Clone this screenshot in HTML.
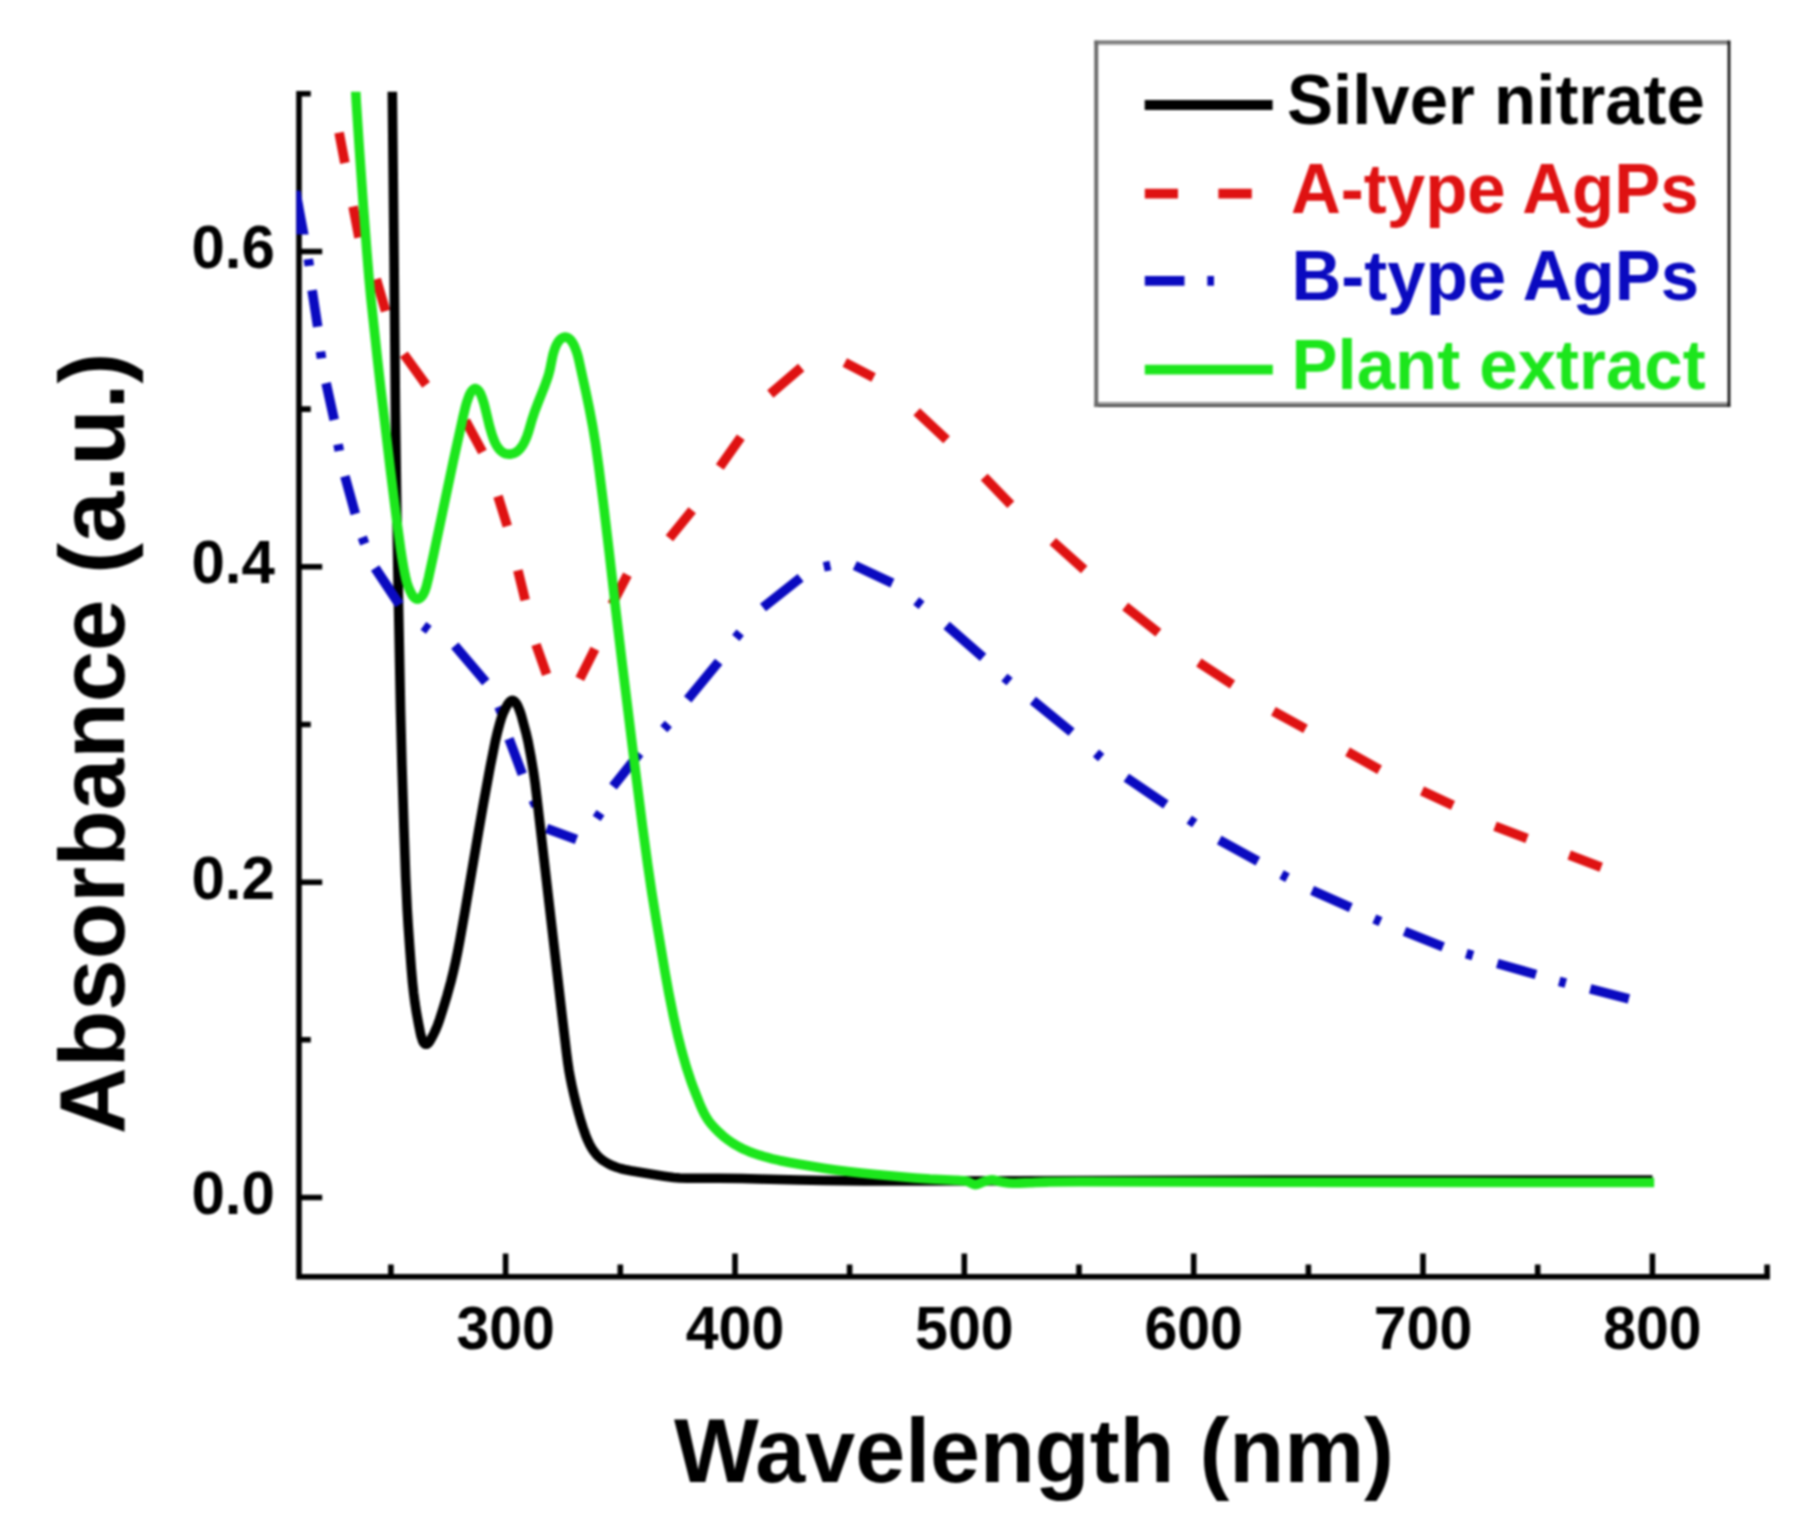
<!DOCTYPE html>
<html lang="en"><head><meta charset="utf-8"><title>UV-Vis absorbance spectra</title>
<style>
html,body{margin:0;padding:0;background:#fff;}
body{width:1808px;height:1539px;overflow:hidden;}
svg{display:block;filter:blur(0.9px);}
text{font-family:"Liberation Sans",Arial,Helvetica,sans-serif;font-weight:bold;}
.tick{font-size:59px;fill:#000;}.ytick{font-size:60px;}
.leg{font-size:69px;}
</style></head><body>
<svg width="1808" height="1539" viewBox="0 0 1808 1539">
<rect width="1808" height="1539" fill="#fff"/>
<defs><clipPath id="plot"><rect x="296.2" y="91.8" width="1488.1" height="1185.0"/></clipPath></defs>
<g stroke="#000" stroke-width="5.6" fill="none" stroke-linecap="butt">
<path d="M299.0 91.0 V1276.8 H1769.9"/>
<path d="M299.0 1197.5 H322.2M299.0 1039.8 H310.8M299.0 882.2 H322.2M299.0 724.5 H310.8M299.0 566.8 H322.2M299.0 409.1 H310.8M299.0 251.5 H322.2M299.0 93.8 H310.8"/>
<path d="M390.9 1276.8 V1264.6M505.6 1276.8 V1253.6M620.3 1276.8 V1264.6M735.0 1276.8 V1253.6M849.6 1276.8 V1264.6M964.3 1276.8 V1253.6M1079.0 1276.8 V1264.6M1193.7 1276.8 V1253.6M1308.4 1276.8 V1264.6M1423.0 1276.8 V1253.6M1537.7 1276.8 V1264.6M1652.4 1276.8 V1253.6M1767.1 1276.8 V1264.6"/>
</g>
<g clip-path="url(#plot)" fill="none" stroke-linejoin="round">
<path d="M339.1 132.7 L344.9 163.0M353.1 206.5 L359.0 237.5M376.3 279.1 L385.6 311.2M403.9 354.3 L426.1 384.9M465.6 420.8 L482.5 452.0M498.0 496.2 L507.3 526.1M517.9 570.4 L525.2 600.2M536.0 644.5 L546.6 674.3M579.8 678.8 L594.9 648.9M612.0 604.5 L627.4 574.8M669.4 538.3 L692.2 510.2M719.8 467.0 L740.8 437.2M770.3 394.0 L801.2 367.5M844.8 362.4 L873.6 377.4M916.7 411.7 L946.6 439.8M984.2 477.0 L1010.8 504.6M1052.8 541.5 L1084.2 569.6M1125.2 606.5 L1158.4 632.7M1198.8 662.5 L1232.5 684.6M1273.4 711.2 L1305.5 728.9M1347.5 751.7 L1379.6 769.8M1422.0 790.9 L1453.0 805.3M1495.0 826.3 L1527.1 838.5M1569.2 855.0 L1601.2 867.2" stroke="#df1212" stroke-width="9.6"/>
<path d="M296.1 190.4H300.4L308.6 234.6H296.1Z" fill="#0a0ac0" stroke="none"/>
<path d="M312.1 290.2 L317.7 326.7M326.1 383.1 L334.2 419.9M344.9 476.3 L355.3 513.9M375.2 568.1 L399.5 604.6M454.8 645.6 L485.8 682.1M509.0 738.8 L522.3 774.2M546.6 828.4 L576.5 839.5M613.0 786.4 L639.6 753.2M687.7 699.4 L718.7 661.8M763.0 607.6 L800.6 577.7M854.8 565.5 L892.4 583.2M946.6 625.3 L983.1 657.3M1032.9 700.5 L1071.6 732.1M1126.3 777.6 L1165.9 804.5M1219.2 840.0 L1257.9 861.2M1312.1 890.4 L1350.8 907.7M1404.5 931.4 L1443.1 946.9M1497.3 963.5 L1536.0 974.5M1590.2 988.9 L1628.9 998.9" stroke="#0a0ac0" stroke-width="9.6"/>
<path d="M308.3 259.1 L309.3 265.9M320.5 351.6 L321.5 358.4M338.1 444.3 L339.3 450.9M362.3 537.3 L364.7 543.7M423.4 625.9 L428.8 629.9M498.9 706.6 L501.5 712.8M533.1 799.9 L535.9 806.1M596.7 818.4 L600.5 812.8M663.8 729.1 L668.4 724.1M735.8 637.8 L740.2 632.6M823.8 566.9 L830.4 565.5M916.2 601.0 L921.6 605.2M1004.4 677.3 L1009.6 681.7M1096.0 753.2 L1101.2 757.6M1189.2 819.6 L1194.8 823.4M1281.5 874.5 L1287.5 877.7M1374.3 918.9 L1380.5 921.7M1466.3 953.6 L1472.9 955.6M1559.2 981.4 L1565.8 983.2" stroke="#0a0ac0" stroke-width="9.6"/>
<path d="M392.21 81.61L394.07 256.62L395.43 409.65L396.48 489.64L397.85 569.19L400.54 710.35L401.95 765.68L403.94 828.24L405.68 877.05L407.18 908.86L408.22 925.89L409.87 949.37L411.29 968.31L412.48 982.23L413.64 993.00L414.96 1003.06L416.52 1012.93L418.44 1023.34L420.32 1032.80L421.28 1036.85L422.60 1040.80L423.58 1042.55L424.30 1043.40L425.17 1044.06L426.11 1044.32L427.08 1044.07L428.02 1043.40L428.84 1042.55L430.07 1040.79L432.61 1036.12L434.04 1033.31L435.86 1029.38L437.46 1025.50L438.88 1021.65L442.43 1010.81L447.14 995.34L450.94 981.48L453.42 971.43L455.47 962.37L457.56 952.28L459.89 940.18L464.60 913.46L478.84 829.88L483.28 804.35L490.26 766.47L495.31 741.12L497.20 733.09L499.94 722.78L501.46 717.74L502.91 713.82L505.66 707.99L507.95 703.93L509.54 701.94L510.50 701.11L511.49 700.58L512.50 700.42L513.51 700.68L514.50 701.32L515.44 702.27L516.86 704.29L517.86 706.21L519.21 709.32L520.37 712.51L521.67 716.66L526.33 734.11L527.97 741.12L530.88 756.36L533.59 772.44L535.01 782.37L537.00 798.78L562.72 1021.07L566.59 1053.51L567.75 1062.44L568.94 1070.30L570.18 1077.27L571.82 1085.34L573.83 1094.26L576.15 1103.77L578.70 1113.51L580.90 1121.20L583.00 1127.78L585.41 1134.66L587.35 1139.54L589.54 1144.23L591.56 1147.86L593.83 1151.33L596.36 1154.52L599.18 1157.39L602.28 1159.91L605.59 1162.13L609.05 1164.09L612.67 1165.80L616.45 1167.27L620.39 1168.48L624.48 1169.47L630.79 1170.71L641.26 1172.52L664.20 1176.14L673.53 1177.41L679.67 1177.97L687.45 1178.24L718.45 1178.28L741.51 1178.53L799.02 1180.07L823.65 1180.53L864.21 1180.88L921.35 1181.02L1296.81 1180.00L1413.89 1179.93L1652.42 1180.00" stroke="#000000" stroke-width="9.6"/>
<path d="M375.2 568.1 L399.5 604.6" stroke="#0a0ac0" stroke-width="9.6"/>
<path d="M355.26 81.66L356.24 101.54L359.27 147.69L363.36 205.89L366.90 252.47L368.99 277.73L370.90 298.23L377.42 358.80L380.95 390.00L390.36 469.54L396.84 521.41L400.58 548.97L401.94 557.74L403.53 566.98L404.92 574.32L406.02 579.24L407.05 583.01L408.36 586.84L409.95 590.56L411.85 594.37L412.94 596.12L413.61 596.92L414.42 597.72L415.36 598.43L416.37 598.93L417.41 599.12L418.48 598.94L419.53 598.44L420.53 597.72L421.37 596.91L422.07 596.11L423.21 594.37L425.03 590.56L426.29 586.83L428.64 577.30L433.56 554.81L453.18 461.76L463.17 416.38L465.28 407.62L466.91 401.81L469.02 395.95L469.87 394.02L470.81 392.27L472.01 390.64L472.75 389.84L473.55 389.18L474.37 388.73L475.21 388.56L476.06 388.71L476.92 389.16L477.76 389.83L479.22 391.48L480.28 393.21L481.97 397.24L483.93 403.32L485.23 408.33L489.44 425.82L491.80 434.03L493.20 438.09L494.82 442.08L496.26 444.98L498.01 447.72L500.19 450.27L501.85 451.74L503.72 452.91L505.84 453.71L508.08 454.11L510.35 454.11L511.51 453.97L513.76 453.37L515.76 452.44L517.40 451.32L518.88 450.00L520.25 448.51L522.06 446.13L523.12 444.47L524.55 441.81L525.83 439.03L526.98 436.18L528.63 431.38L532.07 419.45L534.30 412.64L537.84 403.23L544.21 387.30L547.69 377.56L548.90 373.54L549.95 369.45L552.24 358.00L553.18 353.94L554.75 348.85L556.41 344.97L558.02 342.17L559.30 340.43L560.82 338.93L561.78 338.24L562.87 337.66L564.02 337.27L565.20 337.13L566.38 337.27L567.54 337.66L568.62 338.24L570.35 339.65L571.03 340.43L572.25 342.17L573.84 344.96L574.74 346.85L576.63 351.85L577.54 354.80L578.57 358.73L585.88 391.99L589.37 408.75L592.85 427.17L595.64 444.30L598.78 466.98L603.64 505.32L609.23 552.56L616.16 613.08L622.04 662.29L633.95 758.92L642.37 825.28L647.67 864.34L651.80 892.53L656.02 918.69L665.08 972.49L668.82 993.21L673.72 1017.51L677.71 1035.28L681.84 1051.42L686.32 1066.96L690.70 1080.36L693.10 1086.98L695.64 1093.57L699.53 1103.29L702.03 1109.10L704.26 1113.71L706.25 1117.22L708.49 1120.60L710.98 1123.83L714.31 1127.62L718.51 1131.88L722.95 1135.91L726.86 1139.04L730.91 1141.93L735.13 1144.62L739.57 1147.15L744.16 1149.45L748.82 1151.46L753.60 1153.26L759.49 1155.21L765.44 1156.98L772.41 1158.82L779.44 1160.43L789.50 1162.48L799.54 1164.34L811.60 1166.35L823.65 1168.20L835.73 1169.90L847.83 1171.45L860.91 1172.96L875.97 1174.49L914.74 1177.99L929.78 1179.03L955.58 1180.22L957.4 1180.3C958.9 1180.5 963.5 1180.5 966.5 1181.2C969.5 1181.9 972.3 1184.5 975.1 1184.6C977.9 1184.7 980.7 1182.6 983.5 1181.8C986.3 1181.0 988.8 1179.9 991.7 1179.9C994.6 1179.9 997.5 1181.2 1001.0 1181.8C1004.5 1182.3 1007.9 1183.0 1012.7 1183.2C1017.5 1183.4 1024.5 1182.9 1030.0 1182.7C1035.5 1182.5 1037.7 1182.2 1046.0 1182.1C1054.3 1181.9 1037.7 1181.8 1080.0 1181.8C1122.3 1181.8 1204.3 1182.2 1300.0 1182.3C1395.7 1182.4 1595.2 1182.5 1654.2 1182.5" stroke="#1ce61c" stroke-width="9.6"/>
</g>
<text class="tick ytick" transform="translate(274.8 1214.1) scale(1 1.03)" text-anchor="end">0.0</text>
<text class="tick ytick" transform="translate(274.8 898.8) scale(1 1.03)" text-anchor="end">0.2</text>
<text class="tick ytick" transform="translate(274.8 583.4) scale(1 1.03)" text-anchor="end">0.4</text>
<text class="tick ytick" transform="translate(274.8 268.1) scale(1 1.03)" text-anchor="end">0.6</text>
<text class="tick" transform="translate(505.6 1349.2) scale(1 1.03)" text-anchor="middle">300</text>
<text class="tick" transform="translate(735.0 1349.2) scale(1 1.03)" text-anchor="middle">400</text>
<text class="tick" transform="translate(964.3 1349.2) scale(1 1.03)" text-anchor="middle">500</text>
<text class="tick" transform="translate(1193.7 1349.2) scale(1 1.03)" text-anchor="middle">600</text>
<text class="tick" transform="translate(1423.0 1349.2) scale(1 1.03)" text-anchor="middle">700</text>
<text class="tick" transform="translate(1652.4 1349.2) scale(1 1.03)" text-anchor="middle">800</text>
<text transform="translate(1033.9 1482.4) scale(1 1.02)" text-anchor="middle" font-size="89.8">Wavelength (nm)</text>
<text transform="translate(124.3 743.4) rotate(-90)" text-anchor="middle" font-size="92.5">Absorbance (a.u.)</text>
<rect x="1094.3" y="40.6" width="635.9" height="366.4" fill="#fff"/>
<rect x="1094.3" y="40.6" width="635.9" height="2.2" fill="#5e5e5e"/>
<rect x="1094.3" y="42.8" width="635.9" height="2.1" fill="#9a9a9a"/>
<rect x="1094.3" y="402.0" width="635.9" height="2.5" fill="#9a9a9a"/>
<rect x="1094.3" y="404.5" width="635.9" height="2.5" fill="#484848"/>
<rect x="1094.3" y="40.6" width="3.9" height="366.4" fill="#6a6a6a"/>
<rect x="1727.6" y="40.6" width="2.8" height="366.4" fill="#161616"/>
<g fill="none" stroke-width="9.8">
<path d="M1144.7 105.0H1272.6" stroke="#000000"/>
<path d="M1144.8 193.6H1178M1218.4 193.6H1251.8" stroke="#df1212"/>
<path d="M1144.8 280.8H1184.5M1207.3 280.8H1214" stroke="#0a0ac0"/>
<path d="M1144.8 369.6H1272.8" stroke="#1ce61c"/>
</g>
<text class="leg" transform="translate(1287.0 123.6) scale(1 1.025)" fill="#000000">Silver nitrate</text>
<text class="leg" transform="translate(1291.0 212.8) scale(1 1.025)" fill="#df1212">A-type AgPs</text>
<text class="leg" transform="translate(1291.5 300.0) scale(1 1.025)" fill="#0a0ac0">B-type AgPs</text>
<text class="leg" transform="translate(1291.5 388.8) scale(1 1.025)" fill="#1ce61c">Plant extract</text>
</svg></body></html>
